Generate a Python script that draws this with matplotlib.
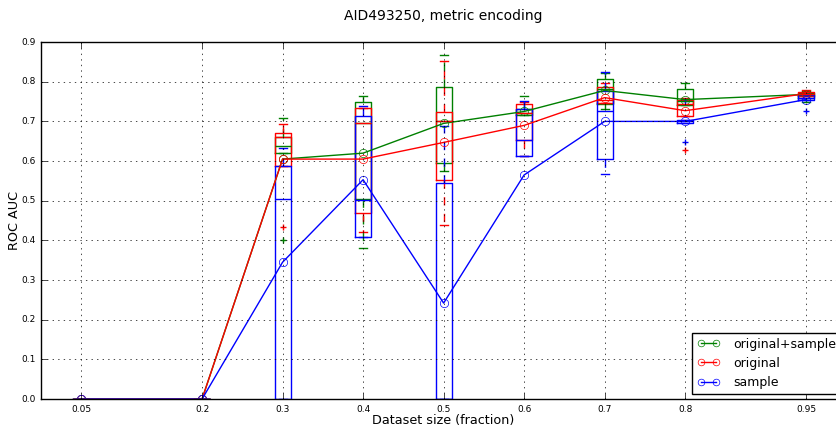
# -*- coding: utf-8 -*-
"""
 ROC AUC vs dataset size, boxes + mean lines
"""
import matplotlib
matplotlib.use("Agg")
import matplotlib.pyplot as plt

plt.style.use("classic")

sizes = [0.05, 0.2, 0.3, 0.4, 0.5, 0.6, 0.7, 0.8, 0.95]
size_labels = ["0.05", "0.2", "0.3", "0.4", "0.5", "0.6", "0.7", "0.8", "0.95"]

# original+sample
os_mean = [0.0, 0.0, 0.605, 0.620, 0.695, 0.725, 0.778, 0.755, 0.768]
os_whislo = [0.0, 0.0, 0.620, 0.380, 0.574, 0.715, 0.731, 0.741, 0.748]
os_q1 = [0.0, 0.0, 0.621, 0.505, 0.596, 0.715, 0.745, 0.741, 0.760]
os_med = [0.0, 0.0, 0.638, 0.697, 0.701, 0.722, 0.781, 0.752, 0.768]
os_q3 = [0.0, 0.0, 0.660, 0.748, 0.787, 0.731, 0.808, 0.781, 0.772]
os_whishi = [0.0, 0.0, 0.709, 0.765, 0.868, 0.765, 0.822, 0.797, 0.776]
os_fliers = [[], [], [0.400], [], [], [], [], [], []]

# original
or_mean = [0.0, 0.0, 0.605, 0.605, 0.647, 0.690, 0.760, 0.727, 0.770]
or_whislo = [0.0, 0.0, 0.587, 0.422, 0.440, 0.612, 0.747, 0.714, 0.765]
or_q1 = [0.0, 0.0, 0.587, 0.468, 0.553, 0.652, 0.747, 0.714, 0.765]
or_med = [0.0, 0.0, 0.660, 0.695, 0.700, 0.720, 0.755, 0.744, 0.770]
or_q3 = [0.0, 0.0, 0.671, 0.733, 0.724, 0.743, 0.786, 0.755, 0.775]
or_whishi = [0.0, 0.0, 0.693, 0.735, 0.853, 0.750, 0.797, 0.760, 0.780]
or_fliers = [[], [], [0.434], [], [], [], [], [0.627], []]

# sample
sa_mean = [0.0, 0.0, 0.345, 0.553, 0.242, 0.565, 0.700, 0.700, 0.755]
sa_whislo = [0.0, 0.0, 0.0, 0.408, 0.0, 0.612, 0.567, 0.695, 0.755]
sa_q1 = [0.0, 0.0, 0.0, 0.408, 0.0, 0.612, 0.604, 0.695, 0.755]
sa_med = [0.0, 0.0, 0.505, 0.502, 0.0, 0.652, 0.726, 0.700, 0.760]
sa_q3 = [0.0, 0.0, 0.587, 0.714, 0.545, 0.731, 0.777, 0.704, 0.766]
sa_whishi = [0.0, 0.0, 0.632, 0.738, 0.688, 0.752, 0.825, 0.704, 0.770]
sa_fliers = [[], [], [], [], [], [], [], [0.649, 0.752], [0.726]]


def stats(lo, q1, med, q3, hi, fl):
    return [dict(whislo=lo[i], q1=q1[i], med=med[i], q3=q3[i], whishi=hi[i],
                 fliers=fl[i]) for i in range(len(lo))]


series = [
    ("original+sample", "g", os_mean,
     stats(os_whislo, os_q1, os_med, os_q3, os_whishi, os_fliers)),
    ("original", "r", or_mean,
     stats(or_whislo, or_q1, or_med, or_q3, or_whishi, or_fliers)),
    ("sample", "b", sa_mean,
     stats(sa_whislo, sa_q1, sa_med, sa_q3, sa_whishi, sa_fliers)),
]

fig = plt.figure(figsize=(8.37, 4.25), dpi=100, facecolor="white")
ax = fig.add_axes([0.049, 0.061, 0.962, 0.84])

for name, c, mean, st in series:
    ax.bxp(st, positions=sizes, widths=0.02, manage_ticks=False,
           boxprops=dict(color=c, linewidth=1),
           medianprops=dict(color=c, linewidth=1),
           whiskerprops=dict(color=c, linestyle="--", linewidth=1),
           capprops=dict(color=c, linewidth=1),
           flierprops=dict(marker="+", markeredgecolor=c, markersize=5))
for name, c, mean, st in series:
    ax.plot(sizes, mean, "-o", color=c, mfc="none", mec=c, ms=6, lw=1,
            label=name)

ax.set_xlim(0, 1.0)
ax.set_ylim(0, 0.9)
ax.set_xticks(sizes)
ax.set_xticklabels(size_labels)
ax.set_yticks([0.0, 0.1, 0.2, 0.3, 0.4, 0.5, 0.6, 0.7, 0.8, 0.9])
ax.tick_params(labelsize=6.5)
ax.grid(True, color="k", linestyle=":")
ax.set_title("AID493250, metric encoding", fontsize=10, pad=16)
ax.set_xlabel("Dataset size (fraction)", fontsize=9.2, labelpad=0)
ax.set_ylabel("ROC AUC", fontsize=9.2, labelpad=0)
ax.legend(loc="lower right", fontsize=9, numpoints=2, handlelength=1.8,
          handletextpad=1.1, markerscale=0.8, borderaxespad=0.4)

plt.savefig("out.png", dpi=100, facecolor="white")
